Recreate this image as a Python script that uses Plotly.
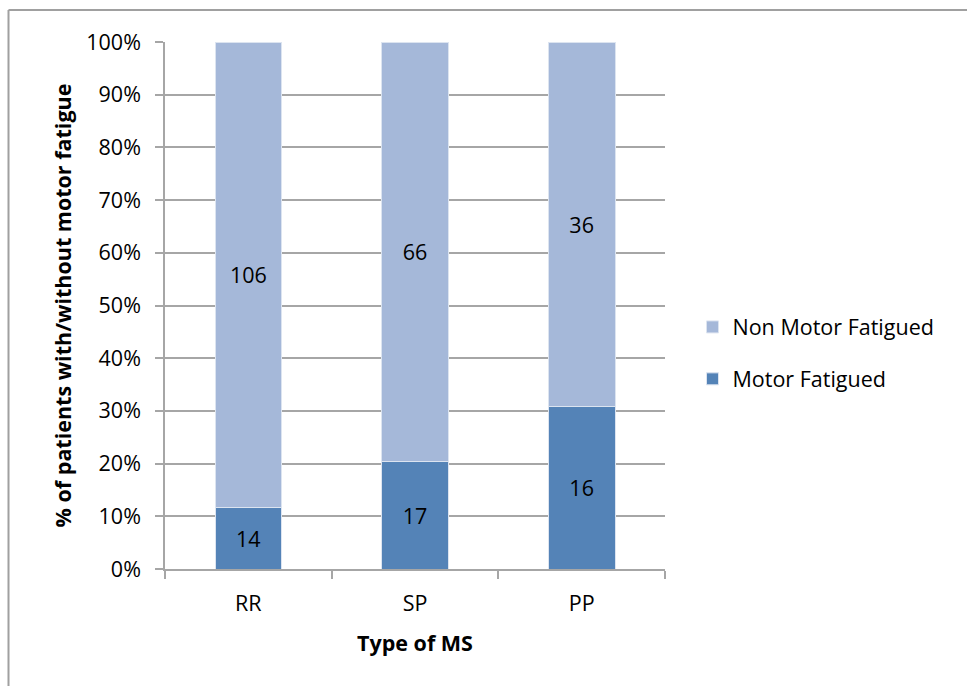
import plotly.graph_objects as go

# Patient counts by MS type
ms_types = ["RR", "SP", "PP"]
motor_fatigued = [14, 17, 16]
non_motor_fatigued = [106, 66, 36]

series_names = ["Motor Fatigued", "Non Motor Fatigued"]
series_colors = ["#5483B7", "#A5B8D9"]
legend_ranks = [2, 1]

font_family = "Open Sans, Liberation Sans, sans-serif"
grid_color = "#A6A6A6"
fs = 21.5

fig = go.Figure()
for name, values, color, rank in zip(series_names, [motor_fatigued, non_motor_fatigued],
                                     series_colors, legend_ranks):
    fig.add_trace(go.Bar(
        x=ms_types,
        y=values,
        name=name,
        legendgroup=name,
        legendrank=rank,
        marker=dict(color=color, line=dict(color="#DCE4F0", width=1)),
        text=[str(v) for v in values],
        textposition="inside",
        insidetextanchor="middle",
        textfont=dict(family=font_family, size=fs, color="#000000"),
        hoverinfo="skip",
    ))

fig.update_layout(
    barmode="stack",
    barnorm="percent",
    bargap=0.6,
    width=967,
    height=686,
    margin=dict(l=165, r=302, t=42, b=117),
    paper_bgcolor="white",
    plot_bgcolor="white",
    font=dict(family=font_family, size=fs, color="#000000"),
    showlegend=True,
    legend=dict(
        x=1.055, y=0.41, xanchor="left", yanchor="middle",
        traceorder="grouped",
        tracegroupgap=21,
        font=dict(size=fs),
        itemwidth=30,
    ),
    xaxis=dict(
        showgrid=False,
        showline=True, linecolor=grid_color, linewidth=1.5,
        ticks="outside", tickson="boundaries", ticklen=8, tickcolor=grid_color, tickwidth=1.5,
        tickfont=dict(size=fs),
        ticklabelstandoff=14,
        title=dict(text="<b>Type of MS</b>", font=dict(size=fs), standoff=20),
    ),
    yaxis=dict(
        range=[0, 100],
        dtick=10,
        ticksuffix="%",
        showgrid=True, gridcolor=grid_color, gridwidth=1.5,
        showline=True, linecolor=grid_color, linewidth=1.5,
        ticks="outside", ticklen=8, tickcolor=grid_color, tickwidth=1.5,
        tickfont=dict(size=fs),
        ticklabelstandoff=10,
        zeroline=False,
        title=dict(text="<b>% of patients with/without motor fatigue</b>", font=dict(size=fs), standoff=9),
    ),
    shapes=[
        dict(type="line", xref="paper", yref="paper",
             x0=-0.313, x1=1.7, y0=1.0607, y1=1.0607,
             line=dict(color="#A0A0A0", width=2)),
        dict(type="line", xref="paper", yref="paper",
             x0=-0.313, x1=-0.313, y0=1.0607, y1=-0.3,
             line=dict(color="#A0A0A0", width=2)),
    ],
)

fig.write_html("out.html")
